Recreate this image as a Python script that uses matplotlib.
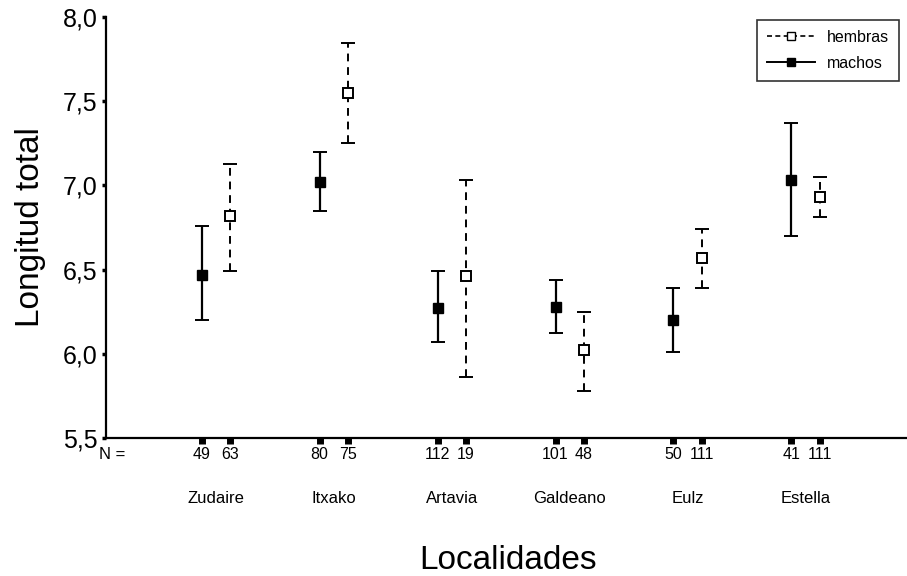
import matplotlib
matplotlib.use("Agg")
import matplotlib.pyplot as plt
from matplotlib.lines import Line2D
import numpy as np

plt.rcParams["font.family"] = ["Liberation Sans", "DejaVu Sans"]

localidades = ["Zudaire", "Itxako", "Artavia", "Galdeano", "Eulz", "Estella"]

machos_mean = [6.47, 7.02, 6.27, 6.28, 6.20, 7.03]
machos_low = [6.20, 6.85, 6.07, 6.12, 6.01, 6.70]
machos_high = [6.76, 7.20, 6.49, 6.44, 6.39, 7.37]
machos_n = [49, 80, 112, 101, 50, 41]

hembras_mean = [6.82, 7.55, 6.46, 6.02, 6.57, 6.93]
hembras_low = [6.49, 7.25, 5.86, 5.78, 6.39, 6.81]
hembras_high = [7.13, 7.85, 7.03, 6.25, 6.74, 7.05]
hembras_n = [63, 75, 19, 48, 111, 111]

fig = plt.figure(figsize=(9.07, 5.76), dpi=100)
ax = fig.add_axes([0.117, 0.24, 0.883, 0.73])

pos = np.arange(1, len(localidades) + 1)
off = 0.12
xm = pos - off
xh = pos + off

m_mean = np.array(machos_mean)
h_mean = np.array(hembras_mean)
m_err = [m_mean - np.array(machos_low), np.array(machos_high) - m_mean]
h_err = [h_mean - np.array(hembras_low), np.array(hembras_high) - h_mean]

eh = ax.errorbar(xh, h_mean, yerr=h_err, fmt="s", color="black", mfc="white",
                 mec="black", mew=1.4, ms=7, capsize=5, elinewidth=1.4,
                 capthick=1.4)
eh[2][0].set_linestyle((0, (4, 3)))
em = ax.errorbar(xm, m_mean, yerr=m_err, fmt="s", color="black", mfc="black",
                 ms=7, capsize=5, elinewidth=1.6, capthick=1.4)

ax.set_xlim(0.07, 6.86)
ax.set_ylim(5.5, 8.0)
ax.set_yticks([5.5, 6.0, 6.5, 7.0, 7.5, 8.0])
ax.set_yticklabels(["5,5", "6,0", "6,5", "7,0", "7,5", "8,0"], fontsize=18)
ax.tick_params(axis="y", direction="out", length=3, width=2.5, pad=3)

xt = np.concatenate([xm, xh])
nl = [str(v) for v in machos_n + hembras_n]
ax.set_xticks(xt)
ax.set_xticklabels(nl, fontsize=11.5)
ax.tick_params(axis="x", direction="out", length=4, width=5, pad=3)

ax.spines["top"].set_visible(False)
ax.spines["right"].set_visible(False)
ax.spines["left"].set_linewidth(1.6)
ax.spines["bottom"].set_linewidth(1.6)

ax.text(0.024, -0.041, "N =", transform=ax.transAxes, fontsize=12,
        ha="right", va="center")
for p, name in zip(pos, localidades):
    ax.text(p, -0.145, name, transform=ax.get_xaxis_transform(),
            fontsize=12, ha="center", va="center")

ax.set_ylabel("Longitud total", fontsize=24, labelpad=12)
fig.text(0.56, 0.012, "Localidades", fontsize=24, ha="center", va="baseline")

h_handle = Line2D([], [], color="black", ls=(0, (3, 2)), lw=1.2, marker="s",
                  mfc="white", mec="black", ms=6)
m_handle = Line2D([], [], color="black", ls="-", lw=1.4, marker="s",
                  mfc="black", ms=6)
leg = ax.legend([h_handle, m_handle], ["hembras", "machos"], loc="upper right",
                bbox_to_anchor=(1.0, 1.012), fontsize=11.5, frameon=True,
                fancybox=False, edgecolor="black", handlelength=3.0,
                borderpad=0.6, labelspacing=0.7)
leg.get_frame().set_linewidth(1.2)

fig.savefig("out.png", dpi=100)
